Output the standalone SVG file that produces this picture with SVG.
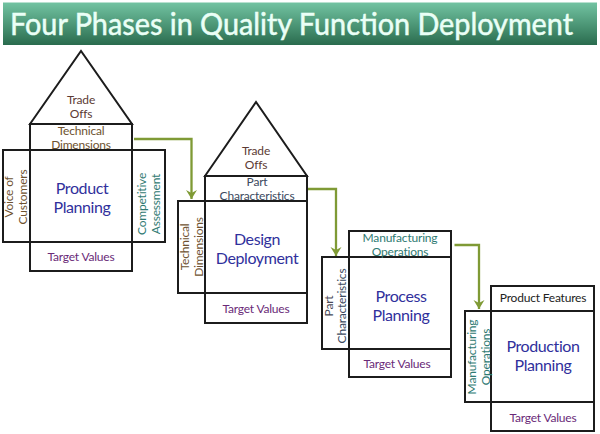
<svg xmlns="http://www.w3.org/2000/svg" width="600" height="434" viewBox="0 0 600 434">
<style>
text{font-family:"Lato","Carlito","Open Sans",sans-serif;text-anchor:middle;font-weight:400}
.b{fill:none;stroke:#1c1c1c;stroke-width:2}
.l{font-size:12px;letter-spacing:-.2px}
.h{font-size:16px;fill:#30309c;letter-spacing:-.4px}
.t{fill:#6a2a78;font-size:12px;letter-spacing:-.2px}
.o{fill:#5c3a34;font-size:12px;letter-spacing:-.2px}
.c{fill:none;stroke:#7f9a35;stroke-width:2.300}
.br{fill:#6e5230}
.te{fill:#2f7a72}
.sl{fill:#3c4a60}
</style>
<defs>
<linearGradient id="g" x1="0" y1="0" x2="0" y2="1"><stop offset="0" stop-color="#72c3a2"/><stop offset="0.6" stop-color="#479070"/><stop offset="1" stop-color="#2a6b4e"/></linearGradient>
<marker id="a" markerUnits="userSpaceOnUse" markerWidth="12" markerHeight="10" refX="5.500" refY="9" orient="0" overflow="visible"><path d="M0 0 L5.500 3 L11 0 L5.500 9Z" fill="#7f9a35"/></marker>
</defs>
<rect id="banner" x="3" y="2.500" width="594" height="42.500" fill="url(#g)"/>
<text id="title" x="291.500" y="35" font-size="30" fill="#eafff6" stroke="#eafff6" stroke-width="0.500" textLength="563" lengthAdjust="spacingAndGlyphs">Four Phases in Quality Function Deployment</text>
<g id="connectors">
<path class="c" d="M134 139H191.500V199" marker-end="url(#a)"/>
<path class="c" d="M308 189H336V256" marker-end="url(#a)"/>
<path class="c" d="M454.500 245H479V309" marker-end="url(#a)"/>
</g>
<g id="phase1">
<path class="b" d="M30 124L81 51L132 124Z"/>
<rect class="b" x="30" y="124" width="102" height="147"/>
<rect class="b" x="3" y="150" width="162" height="92"/>
<text class="o" x="81" y="104">Trade</text><text class="o" x="81" y="118">Offs</text>
<text class="l br" x="81" y="135">Technical</text><text class="l br" x="81" y="149">Dimensions</text>
<text class="h" x="82" y="194">Product</text><text class="h" x="82" y="213">Planning</text>
<text class="l br" transform="translate(13 197) rotate(-90)">Voice of</text><text class="l br" transform="translate(27 197) rotate(-90)">Customers</text>
<text class="l te" transform="translate(146 204) rotate(-90)">Competitive</text><text class="l te" transform="translate(160 204) rotate(-90)">Assessment</text>
<text class="t" x="81" y="261">Target Values</text>
</g>
<g id="phase2">
<path class="b" d="M205 176L256 102L307 176Z"/>
<rect class="b" x="205" y="176" width="102" height="147"/>
<path class="b" d="M205 201H178V293H205M205 201H307M205 293H307"/>
<text class="o" x="256" y="155">Trade</text><text class="o" x="256" y="169">Offs</text>
<text class="l sl" x="257" y="186">Part</text><text class="l sl" x="257" y="200">Characteristics</text>
<text class="h" x="257" y="245">Design</text><text class="h" x="257" y="264">Deployment</text>
<text class="l br" transform="translate(189 247) rotate(-90)">Technical</text><text class="l br" transform="translate(203 247) rotate(-90)">Dimensions</text>
<text class="t" x="256" y="312.500">Target Values</text>
</g>
<g id="phase3">
<rect class="b" x="349" y="231" width="102" height="146"/>
<path class="b" d="M349 257H322V349H349M349 257H451M349 349H451"/>
<text class="l te" x="400" y="242">Manufacturing</text><text class="l te" x="400" y="256">Operations</text>
<text class="h" x="401" y="302">Process</text><text class="h" x="401" y="321">Planning</text>
<text class="l" style="fill:#4a4a58" transform="translate(333 306) rotate(-90)">Part</text><text class="l sl" transform="translate(346 306) rotate(-90)">Characteristics</text>
<text class="t" x="397" y="368">Target Values</text>
</g>
<g id="phase4">
<rect class="b" x="491" y="286" width="103" height="145"/>
<path class="b" d="M491 311H465V402H491M491 311H594M491 402H594"/>
<text class="l" fill="#222" x="543" y="302">Product Features</text>
<text class="h" x="543" y="352">Production</text><text class="h" x="543" y="371">Planning</text>
<text class="l te" transform="translate(476 357) rotate(-90)">Manufacturing</text><text class="l te" transform="translate(490 357) rotate(-90)">Operations</text>
<text class="t" x="543" y="422">Target Values</text>
</g>
</svg>
